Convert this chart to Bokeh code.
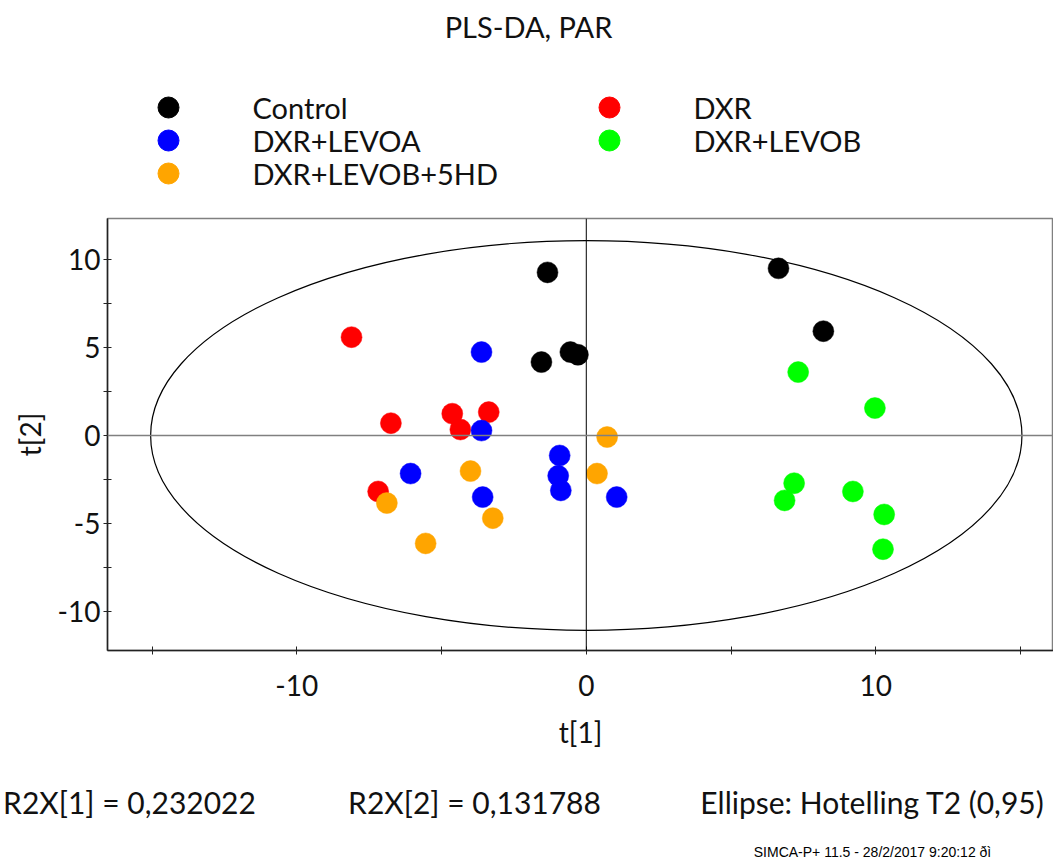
from bokeh.plotting import figure
from bokeh.models import Label, Span, FixedTicker, Range1d, ColumnDataSource
from bokeh.core.properties import value
from bokeh.layouts import column
from bokeh.embed import file_html
from bokeh.resources import INLINE

# ---- data ----
groups = ["Control", "DXR", "DXR+LEVOA", "DXR+LEVOB", "DXR+LEVOB+5HD"]
colors = ["#000000", "#ff0000", "#0000ff", "#00ff00", "#ffa500"]

control_t1 = [-1.34, 6.64, 8.19, -1.55, -0.55, -0.29]
control_t2 = [9.29, 9.52, 5.94, 4.18, 4.75, 4.60]

dxr_t1 = [-8.11, -6.75, -4.63, -3.37, -4.35, -7.19]
dxr_t2 = [5.60, 0.70, 1.24, 1.33, 0.34, -3.19]

levoa_t1 = [-3.62, -3.62, -6.07, -3.58, -0.92, -0.97, -0.88, 1.05]
levoa_t2 = [4.75, 0.28, -2.17, -3.51, -1.14, -2.30, -3.13, -3.51]

levob_t1 = [7.32, 9.97, 7.18, 6.85, 9.21, 10.29, 10.25]
levob_t2 = [3.61, 1.56, -2.72, -3.70, -3.19, -4.50, -6.48]

hd_t1 = [0.72, 0.37, -4.00, -6.89, -3.23, -5.55]
hd_t2 = [-0.09, -2.17, -2.03, -3.85, -4.71, -6.15]

series_t1 = [control_t1, dxr_t1, levoa_t1, levob_t1, hd_t1]
series_t2 = [control_t2, dxr_t2, levoa_t2, levob_t2, hd_t2]

x_ticks = [-15, -10, -5, 0, 5, 10, 15]
x_tick_labels = {-15: "", -10: "-10", -5: "", 0: "0", 5: "", 10: "10", 15: ""}
y_ticks = [-10, -7.5, -5, -2.5, 0, 2.5, 5, 7.5, 10]
y_tick_labels = {-10: "-10", -7.5: "", -5: "-5", -2.5: "", 0: "0", 2.5: "", 5: "5", 7.5: "", 10: "10"}

ellipse_a = 15.05   # Hotelling T2 (0.95) semi-axis, t[1]
ellipse_b = 11.10   # semi-axis, t[2]

title_text = "PLS-DA, PAR"
r2x1_text = "R2X[1] = 0,232022"
r2x2_text = "R2X[2] = 0,131788"
ellipse_text = "Ellipse: Hotelling T2 (0,95)"
footer_text = "SIMCA-P+ 11.5 - 28/2/2017 9:20:12 ðì"

FONT = "Lato"
W = 1053
H_HEAD = 200
H_MAIN = 570
H_FOOT = 88
TXT = "#111111"


def blank_fig(h):
    f = figure(width=W, height=h, output_backend="svg", toolbar_location=None,
               x_range=Range1d(0, W), y_range=Range1d(h, 0),
               x_axis_type=None, y_axis_type=None, frame_align=False,
               min_border_left=0, min_border_right=0, min_border_top=0, min_border_bottom=0)
    f.title.visible = False
    f.grid.visible = False
    f.outline_line_color = None
    return f


def lab(f, text, x, y, size, font=FONT, color=TXT, align="center"):
    f.add_layout(Label(x=x, y=y, text=text, text_font=font, text_font_size=size,
                       text_align=align, text_baseline="middle", text_color=color))


# ---- header: title + two-column legend (row-major order) ----
head = blank_fig(H_HEAD)
lab(head, title_text, 528, 26, "29px")
legend_col_x = [168, 609]       # swatch centre of each legend column (px)
legend_row_y = [107, 140, 173]  # centre of each legend row (px)
legend_text_dx = 84
lx = [legend_col_x[i % 2] for i in range(len(groups))]
ly = [legend_row_y[i // 2] for i in range(len(groups))]
leg_src = ColumnDataSource(dict(x=lx, y=ly, tx=[v + legend_text_dx for v in lx],
                                color=colors, label=groups))
head.scatter("x", "y", source=leg_src, size=21, fill_color="color", line_color="color")
head.text("tx", "y", text="label", source=leg_src, text_font=value(FONT),
          text_font_size="29px", text_baseline="middle", text_align="left", text_color=TXT)

# ---- main score plot ----
p = figure(width=W, height=H_MAIN, output_backend="svg", toolbar_location=None,
           x_range=Range1d(-16.54, 16.14), y_range=Range1d(-12.25, 12.36), frame_align=False,
           min_border_left=107, min_border_right=0, min_border_top=18, min_border_bottom=120)
p.title.visible = False
p.grid.visible = False
p.outline_line_color = "#808080"
p.outline_line_width = 1.5

for ax in (p.xaxis[0], p.yaxis[0]):
    ax.axis_line_color = "#222222"
    ax.axis_line_width = 1.5
    ax.major_tick_line_color = "#222222"
    ax.major_tick_in = 4
    ax.major_tick_out = 4
    ax.minor_tick_line_color = None
    ax.major_label_text_font = FONT
    ax.major_label_text_font_size = "28px"
    ax.major_label_text_color = TXT
    ax.axis_label_text_font = FONT
    ax.axis_label_text_font_size = "28px"
    ax.axis_label_text_font_style = "normal"
    ax.axis_label_text_color = TXT

p.xaxis.ticker = FixedTicker(ticks=x_ticks)
p.xaxis.major_label_overrides = x_tick_labels
p.xaxis.axis_label = "t[1]"
p.xaxis.major_label_standoff = 20
p.xaxis.axis_label_standoff = 16

p.yaxis.ticker = FixedTicker(ticks=y_ticks)
p.yaxis.major_label_overrides = y_tick_labels
p.yaxis.axis_label = "t[2]"
p.yaxis.major_label_standoff = 3
p.yaxis.axis_label_standoff = 8

p.add_layout(Span(location=0, dimension="height", line_color="#000000", line_width=1))
p.add_layout(Span(location=0, dimension="width", line_color="#808080", line_width=1.5))

p.ellipse(x=0, y=0, width=2 * ellipse_a, height=2 * ellipse_b,
          fill_color=None, line_color="#000000", line_width=1.2)

for col, xs, ys in zip(colors, series_t1, series_t2):
    p.scatter(xs, ys, size=21, fill_color=col, line_color=col, line_width=0.5)

# ---- footer: statistics ----
foot = blank_fig(H_FOOT)
lab(foot, r2x1_text, 129, 31, "30px")
lab(foot, r2x2_text, 474, 31, "30px")
lab(foot, ellipse_text, 872, 31, "30px")
lab(foot, footer_text, 872, 81, "14px", font="Liberation Sans", color="#000000")

layout = column(head, p, foot, spacing=0)
open("out.html", "w").write(file_html(layout, INLINE))
